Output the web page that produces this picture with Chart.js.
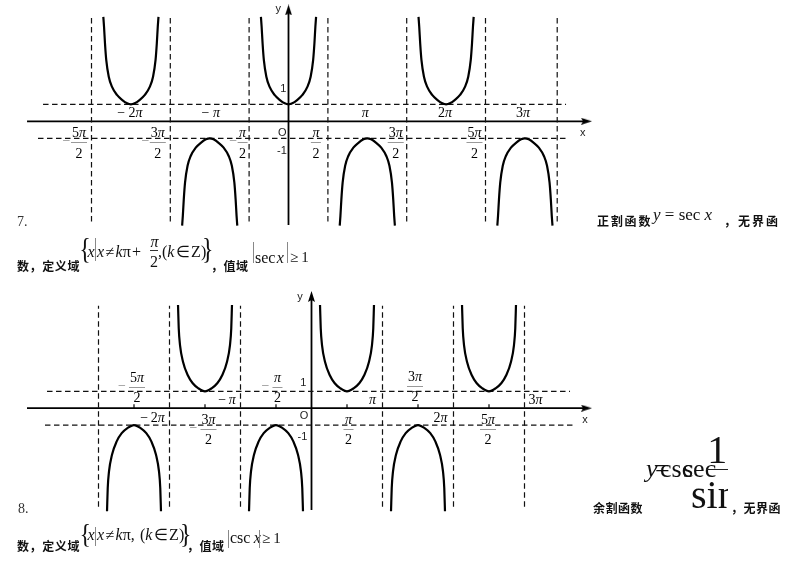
<!DOCTYPE html>
<html><head><meta charset="utf-8">
<script src="https://cdn.jsdelivr.net/npm/chart.js@4.4.0/dist/chart.umd.min.js"></script>
<style>
html,body{margin:0;padding:0;background:#fff;}
#page{position:relative;width:803px;height:569px;overflow:hidden;background:#fff;}
canvas{position:absolute;left:0;}
.t{position:absolute;white-space:nowrap;line-height:1;}
.cjk{font-family:'Noto Sans CJK SC','Noto Sans CJK JP',sans-serif;font-weight:700;font-size:12px;color:#111;}
.m{font-family:'Liberation Serif','Times New Roman',serif;color:#111;}
.m i{font-style:italic;}
.vb{position:absolute;width:0;border-left:1px solid #888;}
.hb{position:absolute;height:0;border-top:1px solid #333;}
</style></head>
<body><div id="page">
<canvas id="c1" width="803" height="232" style="top:0"></canvas>
<canvas id="c2" width="803" height="240" style="top:280px"></canvas>
</div>
<script>
// ---------- data (x measured in multiples of π) ----------
// y = sec x
const secUpperCenters = [-2, 0, 2];
const secLowerCenters = [-1, 1, 3];
const secAsymptotes = [-2.5, -1.5, -0.5, 0.5, 1.5, 2.5, 3.41];
const secBranchY  = [1, 1.06, 1.25, 1.55, 2.04, 2.62, 3.61, 4.59, 5.56, 6.14];
const secBranchDX = [0, 0.048, 0.109, 0.177, 0.241, 0.281, 0.313, 0.329, 0.341, 0.35];
const secMultipleTicks = [-2, -1, 1, 2, 3];
const secHalfTicks = [-2.5, -1.5, -0.5, 0.5, 1.5, 2.5];
// y = csc x
const cscUpperCenters = [-1.5, 0.5, 2.5];
const cscLowerCenters = [-2.5, -0.5, 1.5];
const cscAsymptotes = [-3, -2, -1, 1, 2, 3];
const cscBranchY  = [1, 1.18, 1.48, 1.97, 2.76, 3.75, 4.74, 6.12];
const cscBranchDX = [0, 0.093, 0.173, 0.244, 0.31, 0.352, 0.37, 0.38];
const cscMultipleTicks = [-2, -1, 1, 2, 3];
const cscHalfTicks = [-2.5, -1.5, -0.5, 0.5, 1.5, 2.5];

// ---------- layout ----------
const secLayout = {
  xRange: [-3.6612, 6.5292], yRange: [-6.512, 7.1353],
  xAxis: [-3.318, 3.782], yAxis: [-6.1, 6.55],
  hPlus: [-3.115, 3.522], hMinus: [-3.179, 3.522], vSpan: [-5.9, 6.08],
  multFont: 14, minusSpace: ' ',
  mult: {'-2': [-1, -3.8], '-1': [1, -3.8], '1': [-2, -3.8], '2': [-1, -3.8], '3': [-2, -3.8]},
  frac: {'-2.5': [-12.5, 20.4], '-1.5': [-12.5, 20.4], '-0.5': [-6.5, 20.4], '0.5': [-12, 20.4], '1.5': [-11, 20.4], '2.5': [-11, 20.4]},
  minusGap: 0.5, numOff: -5, denOff: 16.6,
  sans: [['y', -10.2, -112], ['1', -5.2, -32], ['O', -6.2, 12], ['-1', -6.5, 29.4], ['x', 294.2, 12]],
  ticks: null
};
const cscLayout = {
  xRange: [-4.3873, 6.9225], yRange: [-6.635, 7.608],
  xAxis: [-4.007, 3.873], yAxis: [-6.04, 6.63],
  hPlus: [-3.725, 3.641], hMinus: [-3.754, 3.683], vSpan: [-5.85, 6.08],
  multFont: 14, minusSpace: '\u2009',
  mult: {'-2': [-17, 13.5], '-1': [-13.5, -4.5], '1': [-10, -4.5], '2': [-13, 13.5], '3': [11, -4.5]},
  frac: {'-2.5': [3, -21.5], '-1.5': [3.5, 20.5], '-0.5': [1.5, -21.5], '0.5': [1.5, 20.5], '1.5': [-3, -22.5], '2.5': [-1, 20.5]},
  minusGap: 3, numOff: -4.5, denOff: 15,
  sans: [['y', -11.5, -111.5], ['1', -8.2, -24.9], ['O', -7.5, 7.8], ['-1', -9, 28.5], ['x', 273.5, 11.8]],
  ticks: 0.24
};

const SERIF = "'Liberation Serif','Times New Roman',serif";
const SANS = "'Liberation Sans',Arial,sans-serif";

function branch(c, s, Y, DX) {
  const pts = [];
  for (let i = Y.length - 1; i > 0; i--) pts.push({x: c - DX[i], y: s * Y[i]});
  pts.push({x: c, y: s * Y[0]});
  for (let i = 1; i < Y.length; i++) pts.push({x: c + DX[i], y: s * Y[i]});
  return pts;
}

function arrowImg() {
  const c = document.createElement('canvas'); c.width = 7; c.height = 11;
  const g = c.getContext('2d'); g.fillStyle = '#000';
  g.beginPath(); g.moveTo(3.5, 0); g.lineTo(7, 11); g.lineTo(3.5, 9); g.lineTo(0, 11); g.closePath(); g.fill();
  return c;
}
const ARROW = arrowImg();

function runsWidth(ctx, runs, size) {
  let w = 0;
  for (const [t, it] of runs) { ctx.font = (it ? 'italic ' : '') + size + 'px ' + SERIF; w += ctx.measureText(t).width; }
  return w;
}
function drawRuns(ctx, runs, cx, base, size, color) {
  const w = runsWidth(ctx, runs, size);
  let x = cx - w / 2;
  ctx.fillStyle = color; ctx.textBaseline = 'alphabetic'; ctx.textAlign = 'left';
  for (const [t, it] of runs) {
    ctx.font = (it ? 'italic ' : '') + size + 'px ' + SERIF;
    ctx.fillText(t, x, base); x += ctx.measureText(t).width;
  }
  return w;
}

function labelPlugin(L, multTicks, halfTicks) {
  return {
    id: 'labels',
    afterDatasetsDraw(chart) {
      const ctx = chart.ctx, xs = chart.scales.x, ys = chart.scales.y;
      const oy = ys.getPixelForValue(0), ox = xs.getPixelForValue(0);
      ctx.save();
      const fs = L.multFont;
      for (const k of multTicks) {
        const [dx, dy] = L.mult[String(k)];
        const a = Math.abs(k);
        const runs = [];
        if (k < 0) runs.push(['\u2212' + L.minusSpace, false]);
        if (a !== 1) runs.push([String(a), false]);
        runs.push(['\u03c0', true]);
        drawRuns(ctx, runs, xs.getPixelForValue(k) + dx, oy + dy, fs, '#000');
      }
      for (const h of halfTicks) {
        const [dx, dbar] = L.frac[String(h)];
        const n = Math.abs(h * 2);
        const cx = xs.getPixelForValue(h) + dx, by = oy + dbar;
        const num = [];
        if (n !== 1) num.push([String(n), false]);
        num.push(['\u03c0', true]);
        const nw = runsWidth(ctx, num, fs);
        drawRuns(ctx, num, cx, by + L.numOff, fs, '#000');
        drawRuns(ctx, [['2', false]], cx, by + L.denOff, fs, '#000');
        const bw = Math.max(nw, 8) + 2;
        ctx.strokeStyle = '#999'; ctx.lineWidth = 1;
        ctx.beginPath(); ctx.moveTo(cx - bw / 2, Math.round(by) + 0.5); ctx.lineTo(cx + bw / 2, Math.round(by) + 0.5); ctx.stroke();
        if (h < 0) {
          ctx.font = fs + 'px ' + SERIF; ctx.fillStyle = '#888'; ctx.textAlign = 'right';
          ctx.fillText('\u2212', cx - bw / 2 - L.minusGap, by + 3.6);
        }
      }
      ctx.font = '11px ' + SANS; ctx.fillStyle = '#222'; ctx.textAlign = 'center'; ctx.textBaseline = 'middle';
      for (const [t, dx, dy] of L.sans) ctx.fillText(t, ox + dx, oy + dy);
      ctx.restore();
    }
  };
}

function line(points, opts) {
  return Object.assign({data: points, borderColor: '#000', borderWidth: 1.2, pointRadius: 0, fill: false, tension: 0, borderDash: [5.5, 3.5]}, opts || {});
}

function buildChart(id, L, up, low, asym, Y, DX, multTicks, halfTicks, tickVals) {
  const ds = [];
  for (const c of up) ds.push(line(branch(c, 1, Y, DX), {borderWidth: 2.2, borderDash: [], cubicInterpolationMode: 'monotone'}));
  for (const c of low) ds.push(line(branch(c, -1, Y, DX), {borderWidth: 2.2, borderDash: [], cubicInterpolationMode: 'monotone'}));
  for (const a of asym) ds.push(line([{x: a, y: L.vSpan[0]}, {x: a, y: L.vSpan[1]}], {borderColor: '#111'}));
  ds.push(line([{x: L.hPlus[0], y: 1}, {x: L.hPlus[1], y: 1}], {borderColor: '#111'}));
  ds.push(line([{x: L.hMinus[0], y: -1}, {x: L.hMinus[1], y: -1}], {borderColor: '#111'}));
  ds.push(line([{x: L.xAxis[0], y: 0}, {x: L.xAxis[1], y: 0}], {borderWidth: 1.8, borderDash: []}));
  ds.push(line([{x: 0, y: L.yAxis[0]}, {x: 0, y: L.yAxis[1]}], {borderWidth: 1.8, borderDash: []}));
  if (tickVals) for (const t of tickVals) ds.push(line([{x: t, y: 0}, {x: t, y: L.ticks}], {borderWidth: 1.2, borderDash: []}));
  ds.push({data: [{x: L.xAxis[1], y: 0}], showLine: false, pointStyle: ARROW, pointRadius: 5, pointRotation: 90});
  ds.push({data: [{x: 0, y: L.yAxis[1]}], showLine: false, pointStyle: ARROW, pointRadius: 5, pointRotation: 0});
  return new Chart(document.getElementById(id), {
    type: 'line',
    data: {datasets: ds},
    options: {
      responsive: false, animation: false, devicePixelRatio: 1,
      layout: {padding: 0, autoPadding: false},
      events: [],
      scales: {
        x: {type: 'linear', min: L.xRange[0], max: L.xRange[1], display: false},
        y: {type: 'linear', min: L.yRange[0], max: L.yRange[1], display: false}
      },
      plugins: {legend: {display: false}, tooltip: {enabled: false}}
    },
    plugins: [labelPlugin(L, multTicks, halfTicks)]
  });
}

buildChart('c1', secLayout, secUpperCenters, secLowerCenters, secAsymptotes, secBranchY, secBranchDX, secMultipleTicks, secHalfTicks, null);
buildChart('c2', cscLayout, cscUpperCenters, cscLowerCenters, cscAsymptotes, cscBranchY, cscBranchDX, cscMultipleTicks, cscHalfTicks, cscHalfTicks);

// ---------- page text ----------
const page = document.getElementById('page');
function put(html, cls, left, top, style) {
  const d = document.createElement('div'); d.className = 't ' + cls; d.innerHTML = html;
  d.style.left = left + 'px'; d.style.top = top + 'px';
  if (style) Object.assign(d.style, style);
  page.appendChild(d); return d;
}
function serif(html, left, base, size, style, parent) {
  const d = put(html, 'm', left, base - 0.8375 * size, Object.assign({fontSize: size + 'px'}, style || {}));
  if (parent) parent.appendChild(d);
  return d;
}
function cjk(text, left, center, ls) { return put(text, 'cjk', left, center - 6.7, {letterSpacing: ls + 'px'}); }
function vbar(left, top, bottom) {
  const d = document.createElement('div'); d.className = 'vb';
  d.style.left = left + 'px'; d.style.top = top + 'px'; d.style.height = (bottom - top) + 'px';
  page.appendChild(d);
}
function hbar(left, right, y, color, parent) {
  const d = document.createElement('div'); d.className = 'hb';
  d.style.left = left + 'px'; d.style.top = y + 'px'; d.style.width = (right - left) + 'px';
  if (color) d.style.borderTopColor = color;
  (parent || page).appendChild(d);
}

// item 7
serif('7.', 17, 226.7, 14, {color: '#333'});
cjk('正割函数', 597, 222, 1.8);
serif('<i>y</i> = sec <i>x</i>', 653, 220, 17);
cjk('，无界函', 724, 222, 2);
cjk('数，定义域', 17, 266.7, 0.6);
serif('{', 79.3, 256.5, 24, {transform: 'scale(1,1.2)', transformOrigin: 'left center'});
serif('<i>x</i>', 87.5, 257, 16);
vbar(95, 238, 261);
serif('<i>x</i>&#8202;≠&#8202;<i>k</i>π&#8202;+', 97, 257, 16);
serif('<i>π</i>', 150.5, 247, 16);
hbar(150, 158, 250, '#333');
serif('2', 150, 267, 16);
serif(',(<i>k</i>&#8202;∈&#8202;Z)', 158, 257, 16);
serif('}', 201.9, 256.5, 24, {transform: 'scale(1,1.2)', transformOrigin: 'left center'});
cjk('，值域', 211, 266.7, 0.5);
vbar(253, 242, 263);
serif('sec&#8202;<i>x</i>', 255, 263, 16);
vbar(287, 242, 263);
serif('≥&#8201;1', 290, 263, 15);

// item 8
serif('8.', 18, 514, 14, {color: '#333'});
cjk('余割函数', 593, 509, 0.5);
serif('<i>y</i>', 646, 478, 26);
serif('=', 655, 478, 26);
serif('csc', 660, 478, 26);
serif('sec', 683, 478, 26);
hbar(706, 728, 469, '#222');
serif('1', 707.3, 463.3, 40);
const clip = document.createElement('div');
Object.assign(clip.style, {position: 'absolute', left: '690px', top: '480px', width: '38px', height: '40px', overflow: 'hidden'});
page.appendChild(clip);
const sinEl = put('sin', 'm', 1, 508.3 - 480 - 0.8375 * 40, {fontSize: '40px'});
clip.appendChild(sinEl);
cjk('，无界函', 731, 509, 0.5);
cjk('数，定义域', 17, 547, 0.6);
serif('{', 79.5, 542.5, 24, {transform: 'scale(1,1.1)', transformOrigin: 'left center'});
serif('<i>x</i>', 87.5, 540, 16);
vbar(94.5, 527, 546);
serif('<i>x</i>&#8202;≠&#8202;<i>k</i>π,', 97, 540, 16);
serif('(<i>k</i>&#8202;∈&#8202;Z)', 140, 540, 16);
serif('}', 180, 542.5, 24, {transform: 'scale(1,1.1)', transformOrigin: 'left center'});
cjk('，值域', 187, 547, 0.5);
vbar(228, 530, 548);
serif('csc&#8201;<i>x</i>', 230, 543.3, 16);
vbar(259, 530, 548);
serif('≥&#8201;1', 262, 543.3, 15);
</script>
</body></html>
